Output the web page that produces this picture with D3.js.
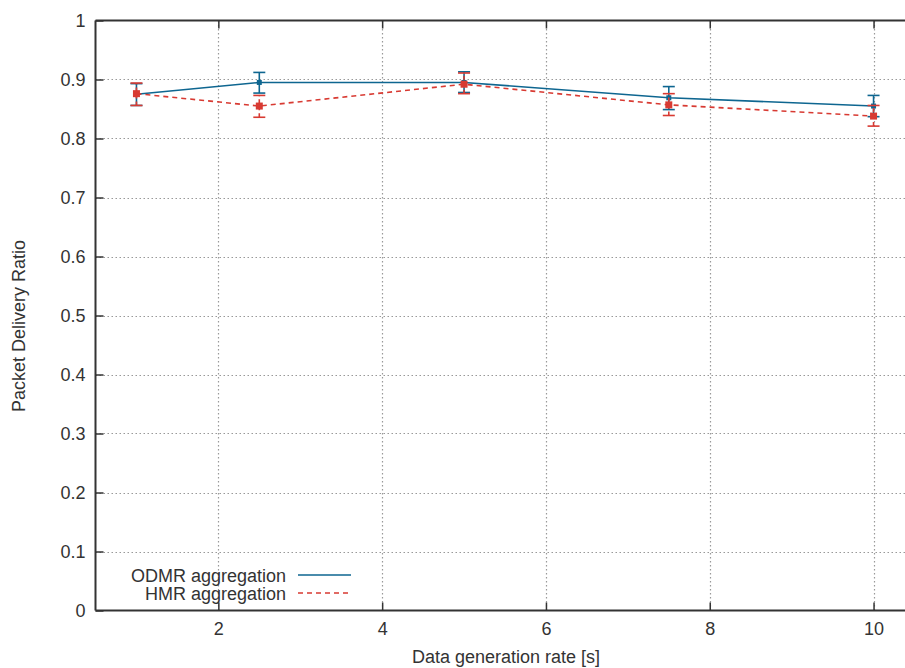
<!DOCTYPE html>
<html><head><meta charset="utf-8">
<script src="https://cdn.jsdelivr.net/npm/d3@7/dist/d3.min.js"></script>
<style>body{margin:0;background:#fff}svg{display:block}text{font-family:"Liberation Sans",Arial,sans-serif;fill:#333}</style>
</head><body><svg id="c" width="905" height="668"></svg>
<script>
const rates = [1, 2.5, 5, 7.5, 10];
const odmr = [0.875, 0.895, 0.895, 0.869, 0.855];
const odmrLo = [0.856, 0.877, 0.878, 0.849, 0.837];
const odmrHi = [0.893, 0.912, 0.913, 0.888, 0.873];
const hmr = [0.876, 0.855, 0.892, 0.857, 0.838];
const hmrLo = [0.856, 0.836, 0.876, 0.839, 0.821];
const hmrHi = [0.894, 0.873, 0.911, 0.876, 0.856];
const xTicks = [2, 4, 6, 8, 10];
const yTicks = [0, 0.1, 0.2, 0.3, 0.4, 0.5, 0.6, 0.7, 0.8, 0.9, 1];
const seriesNames = ["ODMR aggregation", "HMR aggregation"];

const FS = 18;
const svg = d3.select("#c");
const x = d3.scaleLinear().domain([0.5, 10.5]).range([95.5, 914.5]);
const y = d3.scaleLinear().domain([0, 1]).range([610.5, 20.5]);
const X0 = x.range()[0], X1 = x.range()[1], Y0 = y.range()[0], Y1 = y.range()[1];

// grid
const g = svg.append("g");
g.selectAll(".gx").data(xTicks).join("line")
  .attr("x1", d => Math.round(x(d)) + 0.5).attr("x2", d => Math.round(x(d)) + 0.5)
  .attr("y1", Y0).attr("y2", Y1)
  .attr("stroke", "#999").attr("stroke-width", 1.2).attr("stroke-dasharray", "1.5,2.5");
g.selectAll(".gy").data(yTicks.filter(d => d > 0 && d < 1)).join("line")
  .attr("y1", d => Math.round(y(d)) + 0.5).attr("y2", d => Math.round(y(d)) + 0.5)
  .attr("x1", X0).attr("x2", X1)
  .attr("stroke", "#999").attr("stroke-width", 1.2).attr("stroke-dasharray", "1.5,2.5");

// axes using d3 axes (inward ticks)
const ax = svg.append("g").attr("transform", `translate(0,${Y0})`)
  .call(d3.axisBottom(x).tickValues(xTicks).tickSize(-8).tickPadding(12).tickFormat(d3.format("d")));
const axT = svg.append("g").attr("transform", `translate(0,${Y1})`)
  .call(d3.axisTop(x).tickValues(xTicks).tickSize(-8).tickFormat(""));
const ay = svg.append("g").attr("transform", `translate(${X0},0)`)
  .call(d3.axisLeft(y).tickValues(yTicks).tickSize(-8).tickPadding(10).tickFormat(d => d3.format("")(+d.toFixed(1))));
[ax, axT, ay].forEach(a => {
  a.select(".domain").attr("stroke", "#333").attr("stroke-width", 2);
  a.selectAll(".tick line").attr("stroke", "#333").attr("stroke-width", 1.5);
  a.selectAll("text").attr("font-size", FS).attr("fill", "#333").attr("font-family", '"Liberation Sans",Arial,sans-serif');
});
ax.select(".domain").attr("d", `M${X0},0H${X1}`);
axT.select(".domain").attr("d", `M${X0},0H${X1}`);
ay.select(".domain").attr("d", `M0,${Y0}V${Y1}`);

// axis titles
svg.append("text").attr("x", 506).attr("y", 663).attr("text-anchor", "middle").attr("font-size", FS).text("Data generation rate [s]");
svg.append("text").attr("transform", "translate(25,326) rotate(-90)").attr("text-anchor", "middle").attr("font-size", FS).text("Packet Delivery Ratio");

const series = [
  {vals: odmr, lo: odmrLo, hi: odmrHi, color: "#0e6690", dash: null, ps: 5},
  {vals: hmr, lo: hmrLo, hi: hmrHi, color: "#d83a32", dash: "5,4", ps: 7}
];
const line = d3.line().x((d, i) => x(rates[i])).y(d => y(d));
series.forEach(s => {
  const gg = svg.append("g");
  gg.append("path").datum(s.vals).attr("d", line).attr("fill", "none")
    .attr("stroke", s.color).attr("stroke-width", 1.6).attr("stroke-dasharray", s.dash);
  const eb = gg.selectAll(".eb").data(rates).join("g");
  eb.append("line").attr("x1", d => x(d)).attr("x2", d => x(d))
    .attr("y1", (d, i) => y(s.lo[i])).attr("y2", (d, i) => y(s.hi[i]))
    .attr("stroke", s.color).attr("stroke-width", 1.6).attr("stroke-dasharray", s.dash ? "4,3" : null);
  ["lo", "hi"].forEach(k => eb.append("line")
    .attr("x1", d => x(d) - 6).attr("x2", d => x(d) + 6)
    .attr("y1", (d, i) => y(s[k][i])).attr("y2", (d, i) => y(s[k][i]))
    .attr("stroke", s.color).attr("stroke-width", 1.6));
  gg.selectAll(".pt").data(s.vals).join("rect")
    .attr("x", (d, i) => x(rates[i]) - s.ps / 2).attr("y", d => y(d) - s.ps / 2)
    .attr("width", s.ps).attr("height", s.ps).attr("fill", s.color);
});

// legend
const lg = svg.append("g");
seriesNames.forEach((n, i) => {
  const yy = 575 + i * 18;
  lg.append("text").attr("x", 286).attr("y", yy + 6.5).attr("text-anchor", "end").attr("font-size", FS).text(n);
  lg.append("line").attr("x1", 298).attr("x2", 351).attr("y1", yy).attr("y2", yy)
    .attr("stroke", series[i].color).attr("stroke-width", 1.6).attr("stroke-dasharray", series[i].dash);
});
</script></body></html>
